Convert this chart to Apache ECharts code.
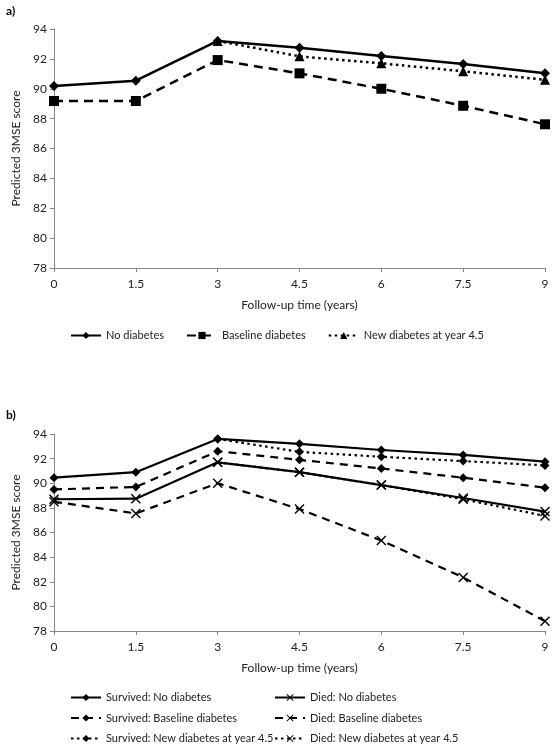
<!DOCTYPE html>
<html><head><meta charset="utf-8">
<script src="https://cdn.jsdelivr.net/npm/echarts@6/dist/echarts.min.js"></script>
<style>html,body{margin:0;padding:0;background:#fff}#c{width:552px;height:750px}</style>
</head><body><div id="c"></div>
<script>
const years = [0, 1.5, 3, 4.5, 6, 7.5, 9];
const xTicks = [0, 1.5, 3, 4.5, 6, 7.5, 9];
const yTicks = [78, 80, 82, 84, 86, 88, 90, 92, 94];
// Panel a
const aNoDiabetes = [90.18, 90.54, 93.2, 92.75, 92.2, 91.65, 91.03];
const aBaseline = [89.18, 89.18, 91.92, 91.03, 90.0, 88.86, 87.62];
const aNew = [null, null, 93.2, 92.17, 91.7, 91.17, 90.6];
// Panel b
const bSurvNo = [90.45, 90.9, 93.6, 93.2, 92.7, 92.3, 91.75];
const bSurvBase = [89.5, 89.7, 92.6, 91.9, 91.2, 90.45, 89.64];
const bSurvNew = [null, null, 93.6, 92.55, 92.15, 91.8, 91.45];
const bDiedNo = [88.7, 88.75, 91.7, 90.9, 89.85, 88.8, 87.7];
const bDiedBase = [88.5, 87.55, 90.0, 87.9, 85.35, 82.35, 78.8];
const bDiedNew = [null, null, 91.7, 90.9, 89.85, 88.7, 87.35];

const FONT = 'Lato';
const X_SYM = 'path://M0,1L1,0L5,4L9,0L10,1L6,5L10,9L9,10L5,6L1,10L0,9L4,5Z';
const pairs = arr => years.map((y, i) => [y, arr[i]]).filter(p => p[1] !== null);

function mkSeries(name, arr, idx, type, symbol, size, width) {
  return {
    name, type: 'line', xAxisIndex: idx, yAxisIndex: idx,
    data: pairs(arr), symbol, symbolSize: size,
    showAllSymbol: true,
    lineStyle: { color: '#000', width, type },
    itemStyle: { color: '#000' },
    emphasis: { disabled: true }, animation: false
  };
}
function xAxis(idx) {
  return {
    type: 'value', gridIndex: idx, min: 0, max: 9, interval: 1.5,
    name: 'Follow-up time (years)', nameLocation: 'middle', nameGap: 31,
    nameTextStyle: { fontFamily: FONT, fontSize: 12, color: '#222' },
    axisLine: { lineStyle: { color: '#868686', width: 1 } },
    axisTick: { show: true, length: 4, lineStyle: { color: '#868686' } },
    axisLabel: { fontFamily: FONT, fontSize: 12, color: '#222', margin: 10,
      formatter: v => xTicks.includes(v) ? String(v) : '' },
    splitLine: { show: false }
  };
}
function yAxis(idx) {
  return {
    type: 'value', gridIndex: idx, min: yTicks[0], max: yTicks[yTicks.length - 1], interval: 2,
    name: 'Predicted 3MSE score', nameLocation: 'middle', nameGap: 26, nameRotate: 90,
    nameTextStyle: { fontFamily: FONT, fontSize: 12, color: '#222' },
    axisLine: { show: true, lineStyle: { color: '#868686', width: 1 } },
    axisTick: { show: true, length: 4, lineStyle: { color: '#868686' } },
    axisLabel: { fontFamily: FONT, fontSize: 12, color: '#222', margin: 7 },
    splitLine: { show: false }
  };
}
const legText = { fontFamily: FONT, fontSize: 11, color: '#222' };
const chart = echarts.init(document.getElementById('c'), null, { renderer: 'canvas' });
chart.setOption({
  backgroundColor: '#fff',
  animation: false,
  title: [
    { text: 'a)', left: 1, top: 0, textStyle: { fontFamily: FONT, fontSize: 12, fontWeight: 'bold', color: '#000' } },
    { text: 'b)', left: 1, top: 404, textStyle: { fontFamily: FONT, fontSize: 12, fontWeight: 'bold', color: '#000' } }
  ],
  grid: [
    { left: 54, right: 7, top: 29, height: 239 },
    { left: 54, right: 7, top: 434, height: 197 }
  ],
  xAxis: [xAxis(0), xAxis(1)],
  yAxis: [yAxis(0), yAxis(1)],
  legend: [
    { data: ['No diabetes', 'Baseline diabetes', 'New diabetes at year 4.5'], left: 65, top: 325,
      width: 480, itemWidth: 30, itemHeight: 9, itemGap: 22, textStyle: legText, selectedMode: false },
    { data: ['Survived: No diabetes', 'Survived: Baseline diabetes', 'Survived: New diabetes at year 4.5'],
      orient: 'vertical', left: 70, top: 692, height: 60, padding: 0, itemWidth: 30, itemHeight: 9, itemGap: 9.5,
      textStyle: legText, selectedMode: false },
    { data: ['Died: No diabetes', 'Died: Baseline diabetes', 'Died: New diabetes at year 4.5'],
      orient: 'vertical', left: 274, top: 692, height: 60, padding: 0, itemWidth: 30, itemHeight: 9, itemGap: 9.5,
      textStyle: legText, selectedMode: false }
  ],
  series: [
    mkSeries('No diabetes', aNoDiabetes, 0, 'solid', 'diamond', 10, 2.5),
    mkSeries('Baseline diabetes', aBaseline, 0, [9, 6], 'rect', 10, 2.5),
    mkSeries('New diabetes at year 4.5', aNew, 0, [2.5, 3.5], 'triangle', 10, 2.5),
    mkSeries('Survived: No diabetes', bSurvNo, 1, 'solid', 'diamond', 9, 2.2),
    mkSeries('Survived: Baseline diabetes', bSurvBase, 1, [8, 6], 'diamond', 9, 2.2),
    mkSeries('Survived: New diabetes at year 4.5', bSurvNew, 1, [2.5, 3.5], 'diamond', 9, 2.2),
    mkSeries('Died: No diabetes', bDiedNo, 1, 'solid', X_SYM, 10, 2.2),
    mkSeries('Died: Baseline diabetes', bDiedBase, 1, [8, 6], X_SYM, 10, 2.2),
    mkSeries('Died: New diabetes at year 4.5', bDiedNew, 1, [2.5, 3.5], X_SYM, 10, 2.2)
  ]
});
</script></body></html>
